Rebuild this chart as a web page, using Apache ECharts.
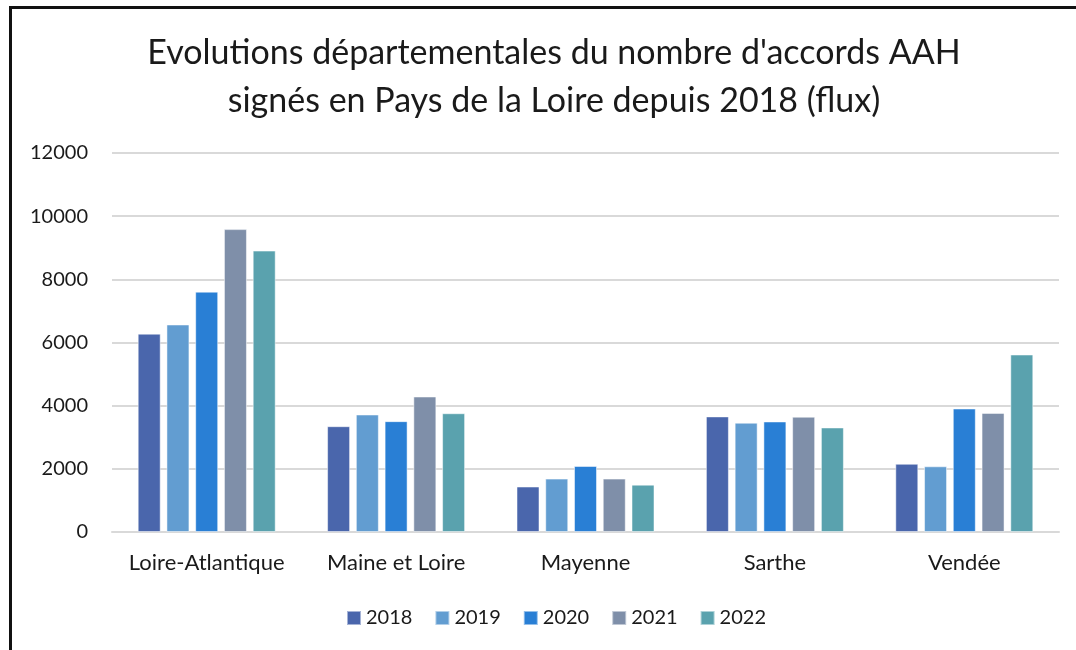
<!DOCTYPE html>
<html>
<head>
<meta charset="utf-8">
<script src="https://cdn.jsdelivr.net/npm/echarts@6/dist/echarts.min.js"></script>
<style>
  html, body { margin: 0; padding: 0; background: #fff; }
  #frame { position: absolute; left: 9px; top: 6px; width: 1200px; height: 800px;
           border-top: 3px solid #111; border-left: 3px solid #111; }
  #chart { position: absolute; left: 0; top: 0; width: 1076px; height: 650px; }
</style>
</head>
<body>
<div id="frame"></div>
<div id="chart"></div>
<script>
// departements
const departements = ['Loire-Atlantique', 'Maine et Loire', 'Mayenne', 'Sarthe', 'Vendée']
const annees = ['2018', '2019', '2020', '2021', '2022']

// accords AAH signes par annee
const v2018 = [6280, 3350, 1440, 3660, 2160]
const v2019 = [6570, 3720, 1690, 3460, 2080]
const v2020 = [7610, 3510, 2090, 3500, 3910]
const v2021 = [9590, 4290, 1690, 3650, 3770]
const v2022 = [8910, 3760, 1500, 3310, 5620]

const couleurs = ['#4A66AC', '#629DD1', '#297FD5', '#7F8FA9', '#5AA2AE']
const yTicks = [0, 2000, 4000, 6000, 8000, 10000, 12000]

const valeurs = [v2018, v2019, v2020, v2021, v2022]
const police = 'Lato'

const chart = echarts.init(document.getElementById('chart'))

const option = {
    animation: false,
    color: couleurs,
    title: {
        text: "Evolutions départementales du nombre d'accords AAH\nsignés en Pays de la Loire depuis 2018 (flux)",
        left: 549,
        top: 24,
        textAlign: 'center',
        textStyle: {
            fontFamily: police,
            fontSize: 34,
            fontWeight: 'normal',
            color: '#1a1a1a',
            lineHeight: 48
        }
    },
    legend: {
        data: annees,
        top: 603,
        left: 341,
        itemWidth: 14,
        itemHeight: 14,
        itemGap: 22,
        icon: 'rect',
        textStyle: { fontFamily: police, fontSize: 20, color: '#1a1a1a' }
    },
    grid: {
        left: 112,
        right: 17,
        top: 153,
        bottom: 118
    },
    xAxis: {
        type: 'category',
        data: departements,
        axisLine: { show: true, lineStyle: { color: '#d9d9d9', width: 2 } },
        axisTick: { show: false },
        axisLabel: {
            interval: 0,
            fontFamily: police,
            fontSize: 22,
            color: '#1a1a1a',
            margin: 20
        }
    },
    yAxis: {
        type: 'value',
        min: yTicks[0],
        max: yTicks[yTicks.length - 1],
        interval: 2000,
        axisLine: { show: false },
        axisTick: { show: false },
        splitLine: { lineStyle: { color: '#d9d9d9', width: 2 } },
        axisLabel: {
            fontFamily: police,
            fontSize: 20,
            color: '#1a1a1a',
            margin: 24,
            formatter: v => String(v)
        }
    },
    series: annees.map((a, i) => ({
        name: a,
        type: 'bar',
        data: valeurs[i],
        barWidth: 23,
        barGap: '25%',
        itemStyle: { borderColor: 'rgba(255,255,255,0.5)', borderWidth: 1 }
    }))
}

chart.setOption(option)
</script>
</body>
</html>
